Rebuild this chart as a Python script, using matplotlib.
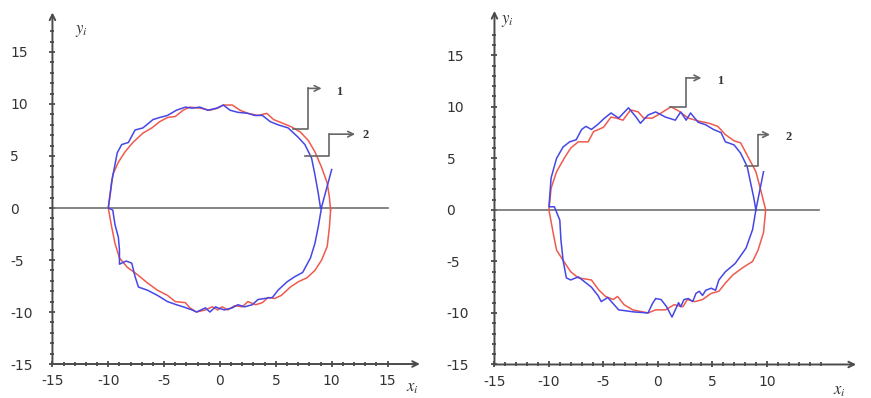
import numpy as np
import matplotlib.pyplot as plt

plt.rcParams['mathtext.fontset'] = 'stix'
plt.rcParams['axes.unicode_minus'] = False

# curve points (x, y)
left_red = [(9.9, -0.2), (9.8, 1.0), (9.6, 2.4), (9.1, 3.9), (8.5, 5.4), (7.9, 6.5), (7.2, 7.3),
            (6.4, 7.8), (5.5, 8.2), (4.8, 8.5), (4.2, 9.1), (3.4, 8.9), (2.5, 9.1), (1.8, 9.4),
            (1.1, 9.9), (0.3, 9.9), (-0.2, 9.6), (-0.9, 9.4), (-1.8, 9.6), (-2.7, 9.7), (-3.3, 9.4),
            (-4.0, 8.8), (-4.7, 8.7), (-5.4, 8.3), (-6.1, 7.7), (-6.9, 7.2), (-7.8, 6.3), (-8.5, 5.4),
            (-9.1, 4.4), (-9.6, 3.2), (-9.8, 1.5), (-10.0, 0.0), (-9.7, -1.8), (-9.4, -3.4),
            (-9.0, -4.8), (-8.3, -5.7), (-7.4, -6.4), (-6.5, -7.2), (-5.6, -7.9), (-4.7, -8.4),
            (-4.0, -9.0), (-3.1, -9.1), (-2.7, -9.6), (-2.1, -10.0), (-1.3, -9.8), (-0.7, -9.5),
            (-0.2, -9.8), (0.2, -9.5), (0.7, -9.8), (1.3, -9.4), (2.0, -9.5), (2.5, -9.0),
            (3.2, -9.3), (3.8, -9.1), (4.3, -8.6), (4.9, -8.7), (5.5, -8.4), (6.3, -7.6),
            (7.0, -7.1), (7.8, -6.7), (8.5, -6.0), (9.1, -5.0), (9.6, -3.7), (9.8, -1.8), (9.9, -0.2)]

left_blue = [(10.0, 3.7), (9.1, 0.1), (8.8, -1.8), (8.5, -3.4), (8.1, -4.8), (7.4, -6.2), (6.7, -6.6),
             (6.0, -7.1), (5.2, -7.9), (4.7, -8.6), (4.0, -8.7), (3.4, -8.8), (2.9, -9.3),
             (2.2, -9.5), (1.6, -9.3), (1.1, -9.6), (0.4, -9.8), (-0.2, -9.6), (-0.4, -9.5),
             (-0.9, -10.0), (-1.3, -9.6), (-2.1, -10.0), (-2.5, -9.8), (-3.3, -9.5), (-3.9, -9.3),
             (-4.7, -9.0), (-5.6, -8.4), (-6.5, -7.9), (-7.3, -7.6), (-7.6, -6.6), (-7.9, -5.3),
             (-8.4, -5.1), (-9.0, -5.4), (-9.0, -4.0), (-9.1, -2.8), (-9.4, -1.6), (-9.6, -0.2),
             (-10.0, 0.0), (-9.7, 2.5), (-9.2, 5.3), (-8.8, 6.1), (-8.2, 6.3), (-7.6, 7.5),
             (-6.9, 7.7), (-6.0, 8.5), (-5.4, 8.7), (-4.7, 8.9), (-3.9, 9.4), (-3.1, 9.7),
             (-2.5, 9.6), (-1.8, 9.7), (-1.1, 9.4), (-0.3, 9.6), (0.3, 9.9), (0.9, 9.4),
             (1.6, 9.2), (2.5, 9.1), (3.1, 8.9), (3.8, 8.9), (4.5, 8.3), (5.2, 8.0), (6.1, 7.7),
             (7.0, 6.8), (7.6, 6.1), (8.2, 4.8), (8.5, 3.2), (8.8, 1.4), (9.0, 0.0)]

right_red = [(9.9, 0.0), (9.4, 2.1), (9.0, 3.7), (8.3, 5.1), (7.6, 6.5), (7.0, 6.7), (6.2, 7.3),
             (5.5, 8.1), (4.7, 8.4), (3.8, 8.6), (2.8, 8.9), (1.9, 9.6), (1.2, 10.0), (0.3, 9.4),
             (-0.5, 8.9), (-1.3, 8.9), (-1.8, 9.5), (-2.5, 9.7), (-3.2, 8.7), (-3.8, 8.9),
             (-4.3, 9.0), (-5.0, 8.0), (-5.9, 7.6), (-6.4, 6.6), (-7.3, 6.6), (-8.0, 6.0),
             (-8.6, 5.0), (-9.3, 3.7), (-9.8, 2.1), (-10.0, 0.0), (-9.6, -2.3), (-9.3, -3.9),
             (-8.7, -4.9), (-8.0, -6.0), (-7.3, -6.6), (-6.1, -6.8), (-5.4, -7.8), (-4.8, -8.4),
             (-4.1, -8.7), (-3.7, -8.4), (-3.1, -9.2), (-2.3, -9.7), (-0.9, -10.0), (-0.2, -9.7),
             (0.7, -9.7), (1.5, -9.2), (2.3, -9.4), (2.7, -8.7), (3.4, -8.9), (4.1, -8.7),
             (4.9, -8.1), (5.6, -7.9), (6.2, -7.1), (6.9, -6.3), (7.8, -5.6), (8.7, -5.0),
             (9.2, -3.9), (9.7, -2.2), (9.9, 0.0)]

right_blue = [(9.7, 3.7), (9.0, 0.0), (8.7, -1.9), (8.1, -3.7), (7.1, -5.2), (6.2, -6.0), (5.6, -6.8),
              (5.3, -7.8), (4.9, -7.6), (4.4, -7.8), (4.1, -8.3), (3.8, -7.9), (3.5, -8.1),
              (3.2, -8.9), (2.8, -8.6), (2.4, -8.7), (2.1, -9.4), (1.9, -9.0), (1.3, -10.4),
              (0.8, -9.4), (0.3, -8.7), (-0.2, -8.6), (-0.5, -9.1), (-0.9, -10.0), (-2.2, -9.9),
              (-3.6, -9.7), (-4.1, -9.1), (-4.6, -8.5), (-5.2, -8.9), (-5.5, -8.3), (-6.1, -7.5),
              (-7.3, -6.5), (-8.0, -6.8), (-8.4, -6.6), (-8.7, -4.9), (-8.9, -2.9), (-9.0, -1.0),
              (-9.5, 0.3), (-10.0, 0.3), (-9.8, 3.1), (-9.3, 5.0), (-8.7, 6.1), (-8.1, 6.6),
              (-7.5, 6.8), (-7.0, 7.8), (-6.6, 8.1), (-6.1, 7.8), (-5.5, 8.3), (-4.9, 8.9),
              (-4.3, 9.4), (-3.6, 8.9), (-2.7, 9.9), (-2.0, 9.0), (-1.6, 8.4), (-0.9, 9.2),
              (-0.2, 9.5), (0.7, 9.0), (1.6, 8.7), (2.1, 9.5), (2.6, 8.7), (3.0, 9.4), (3.7, 8.5),
              (4.4, 8.25), (5.1, 7.8), (5.8, 7.5), (6.2, 6.6), (7.0, 6.3), (7.6, 5.5), (8.2, 4.2),
              (8.5, 2.7), (8.8, 1.2), (9.0, 0.0)]

left_xticks = [-15, -10, -5, 0, 5, 10, 15]
right_xticks = [-15, -10, -5, 0, 5, 10]
yticks = [-15, -10, -5, 0, 5, 10, 15]

RED = '#f05a4e'
BLUE = '#4646e6'
AX = '#4a4a4a'


def setup_axes(ax, xticks, ylab_pad, y_top, x_tip, zero_end):
    ax.set_xlim(-15, 18)
    ax.set_ylim(-15, 19)
    for s in ax.spines.values():
        s.set_visible(False)
    ax.set_xticks(xticks)
    ax.set_xticks(np.arange(-15, 16), minor=True)
    ax.set_yticks(yticks)
    ax.set_yticks(np.arange(-15, 18), minor=True)
    ax.tick_params(which='both', direction='inout', color=AX, width=1.3)
    ax.tick_params(which='major', length=5)
    ax.tick_params(which='minor', length=3)
    ax.tick_params(axis='x', labelsize=10, labelcolor='#333', pad=5)
    ax.tick_params(axis='y', labelsize=10, labelcolor='#333', pad=ylab_pad)
    for lab in ax.get_yticklabels():
        lab.set_horizontalalignment('left')
    ax.annotate('', xy=(x_tip, -15), xytext=(-15, -15), annotation_clip=False,
                arrowprops=dict(arrowstyle='->', color=AX, lw=1.4, shrinkA=0, shrinkB=0))
    ax.annotate('', xy=(-15, y_top), xytext=(-15, -15), annotation_clip=False,
                arrowprops=dict(arrowstyle='->', color=AX, lw=1.4, shrinkA=0, shrinkB=0))
    ax.plot([-15, zero_end], [0, 0], color='#707070', lw=1.2)


def leader(ax, pts, label_xy, label):
    xs = [p[0] for p in pts]
    ys = [p[1] for p in pts]
    ax.plot(xs[:-1], ys[:-1], color='#666', lw=1.2, clip_on=False)
    ax.annotate('', xy=pts[-1], xytext=pts[-2], annotation_clip=False,
                arrowprops=dict(arrowstyle='->', color='#666', lw=1.2, shrinkA=0, shrinkB=0))
    ax.text(label_xy[0], label_xy[1], label, fontsize=9, fontweight='bold',
            family='Liberation Serif', color='#333', ha='center', va='center')


def draw_curve(ax, pts, color):
    arr = np.array(pts)
    ax.plot(arr[:, 0], arr[:, 1], color=color, lw=1.1)


fig = plt.figure(figsize=(8.71, 3.98), dpi=100)
ax1 = fig.add_axes([0.0602, 0.0854, 0.4232, 0.8885])
ax2 = fig.add_axes([0.5677, 0.0842, 0.4127, 0.8806])

setup_axes(ax1, left_xticks, 28, 18.8, 17.9, 15)
setup_axes(ax2, right_xticks, 32, 19.3, 18.2, 14.8)

draw_curve(ax1, left_red, RED)
draw_curve(ax1, left_blue, BLUE)
draw_curve(ax2, right_red, RED)
draw_curve(ax2, right_blue, BLUE)

leader(ax1, [(6.5, 7.6), (7.9, 7.6), (7.9, 11.5), (9.1, 11.5)], (10.7, 11.2), '1')
leader(ax1, [(7.6, 5.0), (9.8, 5.0), (9.8, 7.1), (12.1, 7.1)], (13.0, 7.0), '2')
leader(ax2, [(1.1, 10.0), (2.6, 10.0), (2.6, 12.8), (4.0, 12.8)], (5.7, 12.5), '1')
leader(ax2, [(8.0, 4.3), (9.2, 4.3), (9.2, 7.3), (10.3, 7.3)], (12.0, 7.1), '2')

ax1.text(-12.4, 17.1, r'$y_i$', fontsize=12, color='#333', ha='center', va='center', clip_on=False)
ax1.text(17.2, -17.2, r'$x_i$', fontsize=12, color='#333', ha='center', va='center', clip_on=False)
ax2.text(-13.8, 18.4, r'$y_i$', fontsize=12, color='#333', ha='center', va='center', clip_on=False)
ax2.text(16.7, -17.5, r'$x_i$', fontsize=12, color='#333', ha='center', va='center', clip_on=False)

fig.savefig('out.png', dpi=100)
